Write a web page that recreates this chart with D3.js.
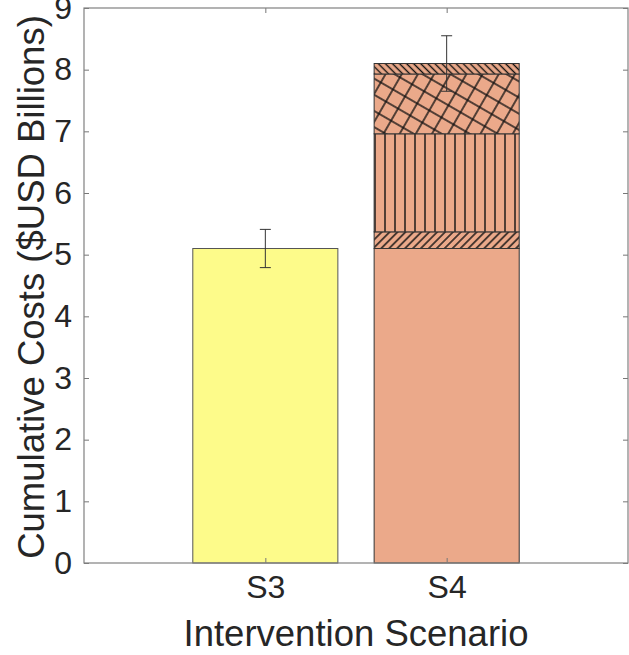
<!DOCTYPE html>
<html>
<head>
<meta charset="utf-8">
<script src="https://cdn.jsdelivr.net/npm/d3@7"></script>
<style>
  body { margin: 0; background: #fff; }
  svg { display: block; }
</style>
</head>
<body>
<svg id="chart"></svg>
<script>
// data
var scenarios = ["S3", "S4"]
var s3Total = 5.1
var s4Segments = [5.1, 0.27, 1.59, 0.97, 0.17]
var s4Hatches = ["none", "diagUp", "vert", "cross", "diagDown"]
var errBars = [0.31, 0.45]
var yTicks = [0, 1, 2, 3, 4, 5, 6, 7, 8, 9]

var width = 629
var height = 655
var margin = {top: 8, right: 1, bottom: 92, left: 84}
var font = "'Liberation Sans', Arial, sans-serif"
var tickFont = 32
var labelFont = 36.5

var svg = d3.select("#chart")
    .attr("width", width)
    .attr("height", height)
    .style("font-family", font)

var x = d3.scaleLinear().domain([0, 3]).range([margin.left, width - margin.right])
var y = d3.scaleLinear().domain([0, 9]).range([height - margin.bottom, margin.top])

var salmon = "#eba98a"
var yellow = "#fdfb8a"

// hatch patterns
var defs = svg.append("defs")
function linePattern(id, spacing, angle, cross) {
    var p = defs.append("pattern")
        .attr("id", id)
        .attr("patternUnits", "userSpaceOnUse")
        .attr("width", spacing)
        .attr("height", spacing)
        .attr("patternTransform", "rotate(" + angle + ")")
    p.append("rect").attr("width", spacing).attr("height", spacing).attr("fill", salmon)
    p.append("line").attr("x1", spacing / 2).attr("x2", spacing / 2)
        .attr("y1", 0).attr("y2", spacing)
        .attr("stroke", "#111").attr("stroke-width", 1.4)
    if (cross) {
        p.append("line").attr("y1", spacing / 2).attr("y2", spacing / 2)
            .attr("x1", 0).attr("x2", spacing)
            .attr("stroke", "#111").attr("stroke-width", 1.4)
    }
}
linePattern("diagUp", 5.6, 45, false)
linePattern("vert", 10, 0, false)
linePattern("cross", 14, 30, true)
linePattern("diagDown", 5, -45, false)

var bw = x(0.8) - x(0)

// S3 bar
svg.append("rect")
    .attr("x", x(1) - bw / 2)
    .attr("width", bw)
    .attr("y", y(s3Total))
    .attr("height", y(0) - y(s3Total))
    .attr("fill", yellow)
    .attr("stroke", "#555")
    .attr("stroke-width", 1)

// S4 stacked bar
var stacked = []
var acc = 0
s4Segments.forEach(function(v, i) {
    stacked.push({y0: acc, y1: acc + v, hatch: s4Hatches[i]})
    acc += v
})
var totals = [s3Total, acc]

svg.append("g").selectAll("rect")
    .data(stacked)
    .join("rect")
    .attr("x", x(2) - bw / 2)
    .attr("width", bw)
    .attr("y", d => y(d.y1))
    .attr("height", d => y(d.y0) - y(d.y1))
    .attr("fill", d => d.hatch == "none" ? salmon : "url(#" + d.hatch + ")")
    .attr("stroke", "#333")
    .attr("stroke-width", 1)

// error bars
var eb = svg.append("g").attr("stroke", "#333").attr("stroke-width", 1)
totals.forEach(function(t, i) {
    var cx = x(i + 1)
    eb.append("line").attr("x1", cx).attr("x2", cx).attr("y1", y(t - errBars[i])).attr("y2", y(t + errBars[i]))
    eb.append("line").attr("x1", cx - 5.5).attr("x2", cx + 5.5).attr("y1", y(t + errBars[i])).attr("y2", y(t + errBars[i]))
    eb.append("line").attr("x1", cx - 5.5).attr("x2", cx + 5.5).attr("y1", y(t - errBars[i])).attr("y2", y(t - errBars[i]))
})

// axes
var yAxis = d3.axisLeft(y).tickValues(yTicks).tickSizeInner(-5).tickSizeOuter(0).tickPadding(12)
var gy = svg.append("g").attr("transform", "translate(" + margin.left + ",0)").call(yAxis)
gy.selectAll("text").attr("font-size", tickFont).attr("fill", "#262626").attr("font-family", font)

var gyr = svg.append("g").attr("transform", "translate(" + (width - margin.right) + ",0)")
    .call(d3.axisRight(y).tickValues(yTicks).tickSizeInner(-5).tickSizeOuter(0).tickFormat(""))

var xAxis = d3.axisBottom(x).tickValues([1, 2]).tickFormat((d, i) => scenarios[i]).tickSizeInner(-5).tickSizeOuter(0).tickPadding(12)
var gx = svg.append("g").attr("transform", "translate(0," + y(0) + ")").call(xAxis)
gx.selectAll("text").attr("font-size", tickFont).attr("fill", "#262626").attr("font-family", font)

svg.append("g").attr("transform", "translate(0," + y(9) + ")")
    .call(d3.axisTop(x).tickValues([1, 2]).tickSizeInner(-5).tickSizeOuter(0).tickFormat(""))

svg.selectAll(".tick line").attr("stroke", "#777")
svg.selectAll(".domain").remove()

// box
svg.append("rect")
    .attr("x", margin.left).attr("y", margin.top)
    .attr("width", width - margin.right - margin.left)
    .attr("height", y(0) - margin.top)
    .attr("fill", "none").attr("stroke", "#808080").attr("stroke-width", 1.2)

// axis labels
svg.append("text")
    .attr("x", (x(0) + x(3)) / 2)
    .attr("y", 646)
    .attr("text-anchor", "middle")
    .attr("font-size", labelFont)
    .attr("fill", "#262626")
    .text("Intervention Scenario")

svg.append("text")
    .attr("transform", "translate(44,287) rotate(-90)")
    .attr("text-anchor", "middle")
    .attr("font-size", labelFont)
    .attr("fill", "#262626")
    .text("Cumulative Costs ($USD Billions)")
</script>
</body>
</html>
